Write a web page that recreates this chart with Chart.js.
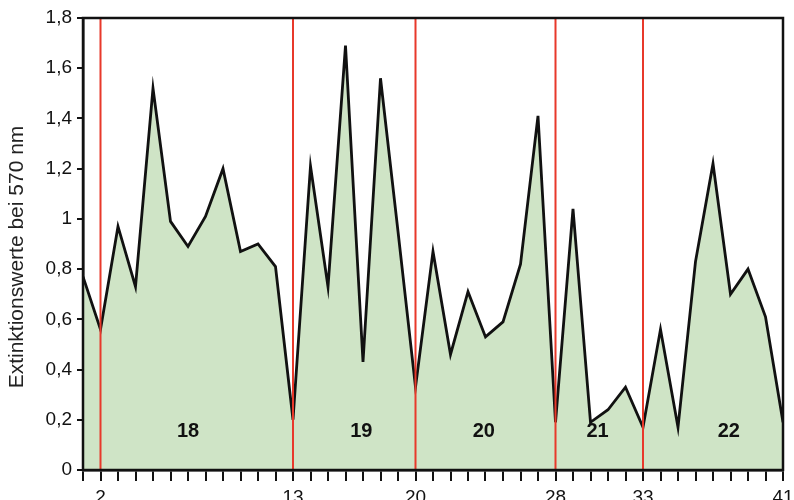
<!DOCTYPE html>
<html>
<head>
<meta charset="utf-8">
<script src="https://cdn.jsdelivr.net/npm/chart.js@4"></script>
<style>
  html, body { margin: 0; padding: 0; background: #fff; }
  #wrap { width: 794px; height: 500px; }
</style>
</head>
<body>
<div id="wrap"><canvas id="c" width="794" height="500"></canvas></div>
<script>
// Sample numbers along the x axis
const sampleNos = [1,2,3,4,5,6,7,8,9,10,11,12,13,14,15,16,17,18,19,20,21,22,23,24,25,26,27,28,29,30,31,32,33,34,35,36,37,38,39,40,41];
// Extinction values at 570 nm
const extinction = [0.77,0.56,0.97,0.73,1.52,0.99,0.89,1.01,1.20,0.87,0.90,0.81,0.20,1.21,0.73,1.69,0.43,1.56,0.95,0.33,0.87,0.46,0.71,0.53,0.59,0.82,1.41,0.19,1.04,0.19,0.24,0.33,0.17,0.56,0.17,0.83,1.22,0.70,0.80,0.61,0.19];
// Group boundaries (red markers) and labelled x ticks
const boundaries = [2, 13, 20, 28, 33];
const xTickLabels = [2, 13, 20, 28, 33, 41];
// Group names and where they sit
const groupNames = ['18', '19', '20', '21', '22'];
const groupX = [7.0, 16.9, 23.9, 30.4, 37.9];
const groupY = 0.155;
const yTitle = 'Extinktionswerte bei 570 nm';

const FONT = '"Liberation Sans", Arial, sans-serif';
const points = sampleNos.map((n, i) => ({ x: n, y: extinction[i] }));

const boundarySets = boundaries.map(b => ({
  type: 'line',
  data: [{ x: b, y: 0 }, { x: b, y: 1.8 }],
  borderColor: '#e8392b',
  borderWidth: 2,
  pointRadius: 0,
  fill: false,
  order: 0
}));

const framePlugin = {
  id: 'frameAndGroups',
  afterDatasetsDraw(chart) {
    const { ctx, chartArea: a, scales } = chart;
    ctx.save();
    ctx.fillStyle = '#111';
    ctx.font = 'bold 20px ' + FONT;
    ctx.textAlign = 'center';
    ctx.textBaseline = 'middle';
    groupNames.forEach((g, i) => {
      ctx.fillText(g, scales.x.getPixelForValue(groupX[i]), scales.y.getPixelForValue(groupY));
    });
    ctx.strokeStyle = '#111';
    ctx.lineWidth = 2.5;
    ctx.strokeRect(a.left, a.top, a.right - a.left, a.bottom - a.top);
    ctx.restore();
  },
  afterDraw(chart) {
    // axis title, set slightly below the axis centre
    const { ctx } = chart;
    ctx.save();
    ctx.translate(17, 257);
    ctx.rotate(-Math.PI / 2);
    ctx.fillStyle = '#222';
    ctx.font = '21px ' + FONT;
    ctx.textAlign = 'center';
    ctx.textBaseline = 'middle';
    ctx.fillText(yTitle, 0, 0);
    ctx.restore();
  }
};

new Chart(document.getElementById('c'), {
  type: 'line',
  data: {
    datasets: [
      {
        data: points,
        borderColor: '#111',
        borderWidth: 2.8,
        backgroundColor: '#cfe4c6',
        fill: 'origin',
        pointRadius: 0,
        tension: 0,
        order: 1
      },
      ...boundarySets
    ]
  },
  options: {
    responsive: false,
    animation: false,
    layout: { padding: { top: 18, right: 0, left: 0, bottom: 0 } },
    plugins: { legend: { display: false }, tooltip: { enabled: false } },
    scales: {
      x: {
        type: 'linear',
        min: 1,
        max: 41,
        afterFit(s) { s.height = 30; s.paddingRight = 11; },
        afterBuildTicks(s) {
          s.ticks = sampleNos.map(v => ({ value: v }));
        },
        ticks: {
          autoSkip: false,
          maxRotation: 0,
          padding: 5,
          color: '#111',
          font: { family: FONT, size: 19 },
          callback: v => (xTickLabels.includes(v) ? String(v) : '')
        },
        grid: { drawOnChartArea: false, drawTicks: true, tickLength: 11, color: '#111', lineWidth: 2 },
        border: { color: '#111', width: 2.5 }
      },
      y: {
        min: 0,
        max: 1.8,
        afterFit(s) { s.width = 83; },
        ticks: {
          stepSize: 0.2,
          padding: 5,
          color: '#111',
          font: { family: FONT, size: 19 },
          callback: v => String(Math.round(v * 10) / 10).replace('.', ',')
        },
        grid: { drawOnChartArea: false, drawTicks: true, tickLength: 6, color: '#111', lineWidth: 2 },
        border: { color: '#111', width: 2.5 }
      }
    }
  },
  plugins: [framePlugin]
});
</script>
</body>
</html>
